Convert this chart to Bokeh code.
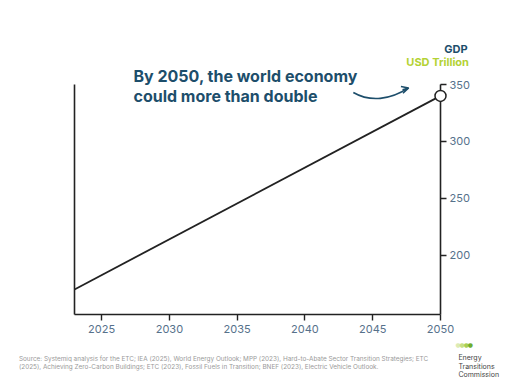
from bokeh.plotting import figure
from bokeh.models import Range1d, LinearAxis, FixedTicker, Arrow, OpenHead
from bokeh.core.properties import value
from bokeh.embed import file_html
from bokeh.resources import INLINE

years = [2023, 2050]
gdp = [170, 340]
x_ticks = [2025, 2030, 2035, 2040, 2045, 2050]
y_ticks = [200, 250, 300, 350]

NAVY = "#1d4e6b"
LIME = "#b4d234"
TICK = "#56718b"
LINE = "#222222"

p = figure(width=504, height=384, output_backend="svg", toolbar_location=None,
           x_range=Range1d(2023, 2050), y_range=Range1d(148, 350),
           y_axis_location="right",
           min_border_left=74, min_border_right=64, min_border_top=84, min_border_bottom=70)
p.outline_line_color = None
p.xgrid.visible = False
p.ygrid.visible = False
p.background_fill_color = "white"
p.border_fill_color = "white"

for ax in (p.xaxis[0], p.yaxis[0]):
    ax.axis_line_color = LINE
    ax.axis_line_width = 1.6
    ax.major_tick_line_color = LINE
    ax.major_tick_line_width = 1.4
    ax.major_tick_out = 6
    ax.major_tick_in = 0
    ax.minor_tick_line_color = None
    ax.major_label_text_color = TICK
    ax.major_label_text_font = "Inter"
    ax.major_label_text_font_size = "11px"
p.xaxis[0].ticker = FixedTicker(ticks=x_ticks)
p.yaxis[0].ticker = FixedTicker(ticks=y_ticks)
p.xaxis[0].major_label_standoff = 4
p.yaxis[0].major_label_standoff = 3

left = LinearAxis(ticker=FixedTicker(ticks=[]), axis_line_color=LINE, axis_line_width=1.6,
                  major_tick_line_color=None, minor_tick_line_color=None,
                  major_label_text_alpha=0)
p.add_layout(left, "left")

p.line(years, gdp, line_color=LINE, line_width=1.8)
end = p.scatter([years[-1]], [gdp[-1]], size=11, fill_color="white", line_color=LINE, line_width=1.5)
end.level = "overlay"

# curved arrow
curve = p.bezier(x0=[2043.57], y0=[343.0], x1=[2047.6], y1=[346.8],
                 cx0=[2044.8], cy0=[334.5], cx1=[2046.3], cy1=[336.5],
                 line_color=NAVY, line_width=1.6)
curve.level = "overlay"
p.add_layout(Arrow(end=OpenHead(size=7, line_color=NAVY, line_width=1.6),
                   x_start=2047.2, y_start=345.4, x_end=2047.65, y_end=347.0,
                   line_color=NAVY, line_width=1.6))


def txt(x, y, s, size, color, style="normal", align="left"):
    r = p.text(x=[x], y=[y], text=[s], text_font=value("Inter"), text_font_size=size,
               text_font_style=style, text_color=color, text_align=align,
               text_baseline="alphabetic")
    r.level = "overlay"
    return r


txt(2027.35, 357.5, "By 2050, the world economy", "16px", NAVY, "bold")
txt(2027.35, 339.6, "could more than double", "16px", NAVY, "bold")

txt(2052.0, 381.0, "GDP", "11px", NAVY, "bold", "right")
txt(2052.1, 370.2, "USD Trillion", "11px", LIME, "bold", "right")

src1 = ("Source: Systemiq analysis for the ETC; IEA (2025), World Energy Outlook; MPP (2023), "
        "Hard-to-Abate Sector Transition Strategies; ETC")
src2 = ("(2025), Achieving Zero-Carbon Buildings; ETC (2023), Fossil Fuels in Transition; "
        "BNEF (2023), Electric Vehicle Outlook.")
txt(2018.9, 109.3, src1, "6.4px", "#9a9a9a")
txt(2018.9, 102.3, src2, "6.4px", "#9a9a9a")

for i, t in enumerate(["Energy", "Transitions", "Commission"]):
    txt(2051.32, 109.8 - 7.2 * i, t, "7px", "#444444")

# logo dots (as text so they are not culled outside the data range)
dots = p.text(x=[2051.3, 2051.6, 2051.9, 2052.2], y=[121.5] * 4, text=["●"] * 4,
              text_font=value("DejaVu Sans"), text_font_size="6px",
              text_color=["#dcebb5", "#c6df86", "#a8cf55", "#6fae2e"],
              text_align="center", text_baseline="middle")
dots.level = "overlay"

open("out.html", "w").write(file_html(p, INLINE))
